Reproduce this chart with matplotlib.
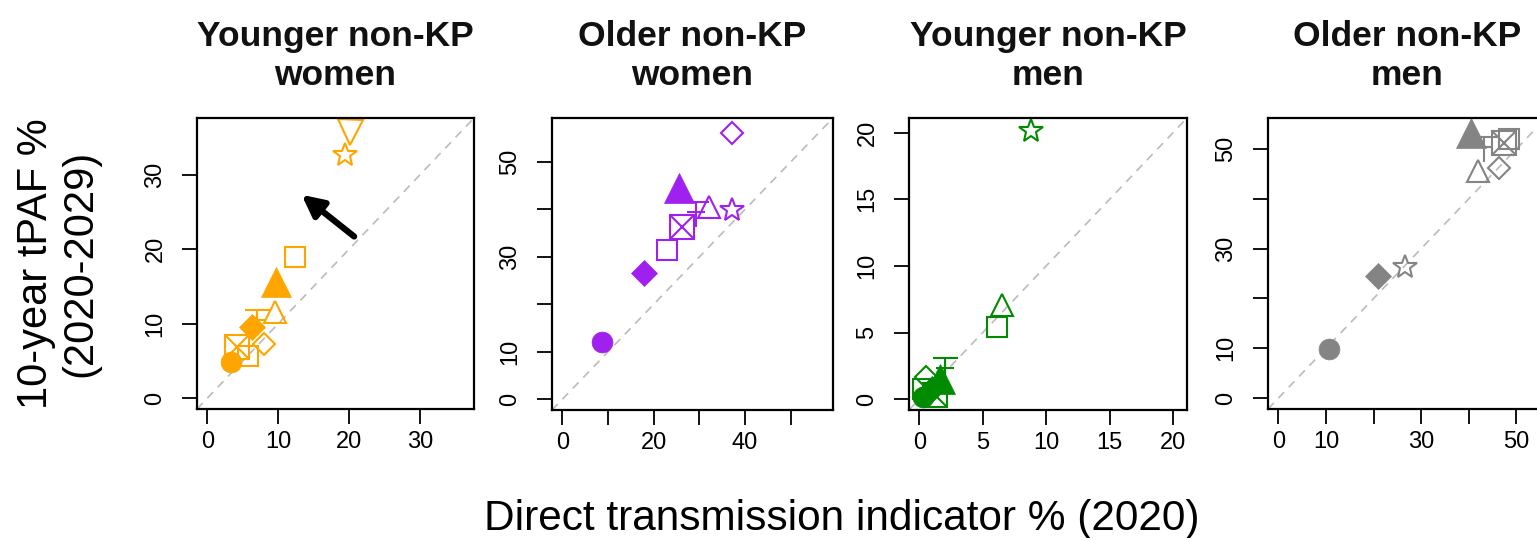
import numpy as np
import matplotlib.pyplot as plt
from matplotlib.path import Path


# ---- Datos (x = indicador directo 2020, y = tPAF 10 años) ----
TITLES = ["Younger non-KP\nwomen", "Older non-KP\nwomen",
          "Younger non-KP\nmen", "Older non-KP\nmen"]

# escenario de cada punto (1..10), el estilo de marcador se asigna abajo
yw_scen = [1, 2, 3, 4, 4, 5, 6, 7, 8, 9, 10]
yw_x    = [3.4, 6.3, 9.7, 12.3, 5.8, 9.6, 20.1, 8.0, 4.2, 19.4, 7.0]
yw_y    = [4.9, 9.6, 15.6, 18.9, 5.6, 11.6, 35.7, 7.3, 6.9, 32.7, 10.2]

ow_scen = [1, 2, 3, 4, 5, 7, 8, 9, 10]
ow_x    = [8.6, 17.9, 25.6, 23.0, 32.2, 37.1, 26.3, 37.1, 29.3]
ow_y    = [12.0, 26.6, 44.5, 31.4, 40.5, 56.1, 36.3, 39.9, 39.0]

ym_scen = [1, 2, 3, 4, 4, 5, 7, 8, 9, 10]
ym_x    = [0.3, 1.0, 1.6, 6.1, 0.3, 6.5, 0.5, 1.2, 8.8, 2.0]
ym_y    = [0.2, 0.8, 1.5, 5.4, 0.8, 7.1, 1.7, 0.3, 20.1, 2.2]

om_scen = [1, 2, 3, 4, 5, 7, 8, 9, 10]
om_x    = [10.6, 21.0, 40.4, 48.5, 41.9, 46.3, 47.3, 26.5, 43.1]
om_y    = [9.8, 24.5, 53.2, 52.0, 45.6, 46.2, 51.2, 26.3, 50.0]

# ticks y etiquetas por panel
xticks  = [[0, 10, 20, 30], [0, 10, 20, 30, 40, 50], [0, 5, 10, 15, 20], [0, 10, 20, 30, 40, 50]]
xlabels = [["0", "10", "20", "30"], ["0", "", "20", "", "40", ""],
           ["0", "5", "10", "15", "20"], ["0", "10", "", "30", "", "50"]]
yticks  = [[0, 10, 20, 30], [0, 10, 20, 30, 40, 50], [0, 5, 10, 15, 20], [0, 10, 20, 30, 40, 50]]
ylabels = [["0", "10", "20", "30"], ["0", "10", "", "30", "", "50"],
           ["0", "5", "10", "15", "20"], ["0", "10", "", "30", "", "50"]]

# ---- Estilo ----
COLORS = ['#FFA500', '#A020F0', '#008B00', '#848484']
LIMS   = [(-1.45, 37.6), (-2.3, 59.3), (-0.81, 21.1), (-2.2, 56.2)]
# posiciones de ejes en píxeles (izq, der, arriba, abajo) sobre 1537x538
BOXES  = [(197, 474, 118, 409), (552, 833, 118, 410),
          (909, 1187, 118, 410), (1268, 1546, 118, 409)]
W, H = 1537, 538

# marcador "Ŧ"
TBAR = Path([(-0.5, 0.5), (0.5, 0.5), (0, 0.5), (0, -0.5), (-0.35, 0.1), (0.35, 0.1)],
            [Path.MOVETO, Path.LINETO, Path.MOVETO, Path.LINETO, Path.MOVETO, Path.LINETO])

# escenario -> (marcador, relleno, tamaño)
STYLE = {
    1: ('o', True, 15),
    2: ('D', True, 13),
    3: ('^', True, 22),
    4: ('s', False, 15),
    5: ('^', False, 16.5),
    6: ('v', False, 18),
    7: ('D', False, 11),
    8: ('sx', False, 17.5),
    9: ('*', False, 18),
    10: (TBAR, False, 18),
}


def draw_point(ax, x, y, scen, col):
    mk, filled, ms = STYLE[scen]
    if mk == 'sx':
        ax.plot([x], [y], marker='s', ms=ms, mfc='none', mec=col, mew=1.5, ls='none')
        ax.plot([x], [y], marker='x', ms=ms, mec=col, mew=1.5, ls='none')
    elif filled:
        ax.plot([x], [y], marker=mk, ms=ms, mfc=col, mec=col, mew=0.5, ls='none')
    else:
        ax.plot([x], [y], marker=mk, ms=ms, mfc='none', mec=col, mew=1.5, ls='none')


fig = plt.figure(figsize=(W / 100, H / 100), dpi=100)
panels = [(yw_scen, yw_x, yw_y), (ow_scen, ow_x, ow_y),
          (ym_scen, ym_x, ym_y), (om_scen, om_x, om_y)]

axes = []
for i, (scen, xs, ys) in enumerate(panels):
    l, r, t, b = BOXES[i]
    ax = fig.add_axes([l / W, (H - b) / H, (r - l) / W, (b - t) / H])
    axes.append(ax)
    lo, hi = LIMS[i]
    ax.set_xlim(lo, hi); ax.set_ylim(lo, hi)
    # diagonal y = x
    ax.plot([lo, hi], [lo, hi], color='#BBBBBB', lw=1.2, ls=(0, (5, 4)), zorder=1)
    for s, x, y in zip(scen, xs, ys):
        draw_point(ax, x, y, s, COLORS[i])
    ax.set_xticks(xticks[i]); ax.set_xticklabels(xlabels[i], family='Liberation Sans', fontsize=17)
    ax.set_yticks(yticks[i]); ax.set_yticklabels(ylabels[i], family='Liberation Sans', fontsize=17,
                                                 rotation=90, va='center')
    ax.tick_params(direction='out', length=11, width=1.3, color='black')
    ax.tick_params(axis='x', pad=5)
    ax.tick_params(axis='y', pad=11)
    for sp in ax.spines.values():
        sp.set_linewidth(1.6); sp.set_color('black')
    ax.set_title(TITLES[i], family='Liberation Sans', fontweight='bold', fontsize=25.5,
                 linespacing=1.2, pad=24, color='#111111')

# flecha negra en el primer panel
axes[0].annotate('', xy=(13.3, 27.3), xytext=(20.7, 21.7),
                 arrowprops=dict(arrowstyle='-|>', lw=4.5, color='black',
                                 mutation_scale=32, shrinkA=0, shrinkB=0))

fig.text(842 / W, (H - 530) / H, "Direct transmission indicator % (2020)",
         family='Liberation Sans', fontsize=30.5, ha='center', va='baseline')
fig.text(58 / W, (H - 263.5) / H, "10-year tPAF %\n(2020-2029)",
         family='Liberation Sans', fontsize=30, rotation=90, ha='center', va='center',
         multialignment='center', linespacing=1.15)

fig.savefig('out.png', dpi=100)
